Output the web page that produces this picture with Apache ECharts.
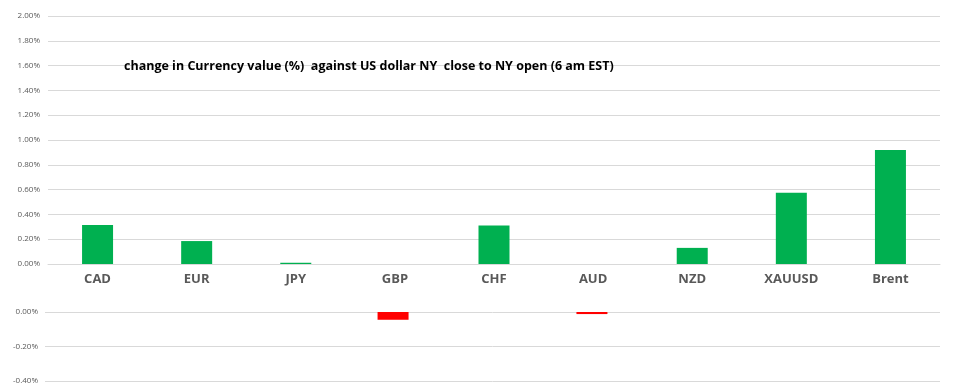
<!DOCTYPE html>
<html><head><meta charset="utf-8">
<script src="https://cdn.jsdelivr.net/npm/echarts@6/dist/echarts.min.js"></script>
<style>html,body{margin:0;padding:0;background:#fff}#c{width:971px;height:385px}</style>
</head><body><div id="c"></div>
<script>
const categories = ['CAD','EUR','JPY','GBP','CHF','AUD','NZD','XAUUSD','Brent'];
const positiveValues = [0.315, 0.185, 0.01, null, 0.31, null, 0.13, 0.575, 0.92];
const negativeValues = [null, null, null, -0.045, null, -0.012, null, null, null];
const titleText = 'change in Currency value (%)  against US dollar NY  close to NY open (6 am EST)';
const fmt = v => v.toFixed(2) + '%';
const chart = echarts.init(document.getElementById('c'));
chart.setOption({
  animation:false,
  title:{text:titleText,left:119,top:55,textStyle:{fontFamily:'Open Sans',fontWeight:'bold',fontSize:12.5,color:'#000'}},
  grid:[
    {left:48,right:31,top:16,height:248},
    {left:45,right:31,top:312,height:71}
  ],
  xAxis:[
    {type:'category',gridIndex:0,data:categories,axisLine:{show:true,lineStyle:{color:'#D9D9D9'}},axisTick:{show:false},
     axisLabel:{margin:9,fontFamily:'Open Sans',fontWeight:'bold',fontSize:13,color:'#595959'}},
    {type:'category',gridIndex:1,data:categories,axisLine:{show:false},axisTick:{show:false},axisLabel:{show:false}}
  ],
  yAxis:[
    {type:'value',gridIndex:0,min:0,max:2,interval:0.2,axisLine:{show:false},axisTick:{show:false},
     splitLine:{lineStyle:{color:'#D9D9D9'}},axisLabel:{formatter:fmt,fontFamily:'Open Sans',fontSize:8,color:'#595959',margin:8}},
    {type:'value',gridIndex:1,min:-0.4,max:0,interval:0.2,axisLine:{show:false},axisTick:{show:false},
     splitLine:{lineStyle:{color:'#D9D9D9'}},axisLabel:{formatter:fmt,fontFamily:'Open Sans',fontSize:8,color:'#595959',margin:7}}
  ],
  series:[
    {type:'bar',xAxisIndex:0,yAxisIndex:0,data:positiveValues,barWidth:31,itemStyle:{color:'#00B050'}},
    {type:'bar',xAxisIndex:1,yAxisIndex:1,data:negativeValues,barWidth:31,itemStyle:{color:'#FF0000'}}
  ]
});
</script></body></html>
